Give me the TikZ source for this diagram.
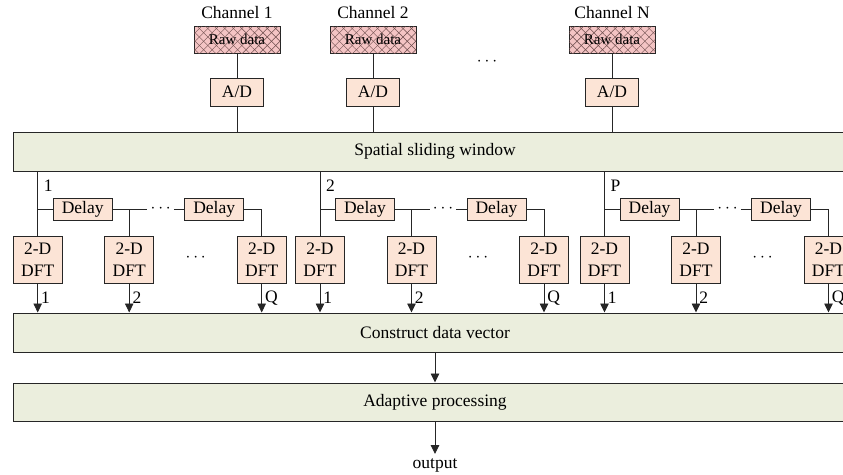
\documentclass[tikz,border=0pt]{standalone}
\usepackage{fontspec}
\setmainfont{Liberation Serif}
\usetikzlibrary{arrows.meta,patterns.meta}
\definecolor{peach}{HTML}{FCE4D6}
\definecolor{sage}{HTML}{EBEEDD}
\definecolor{rawpink}{HTML}{F4C4C4}
\definecolor{hatch}{HTML}{6A4A4A}
\begin{document}
\begin{tikzpicture}[x=1pt,y=-1pt,
  every node/.style={font=\fontsize{17.5}{22}\selectfont, inner sep=0pt},
  ln/.style={line width=0.9pt, draw=black!85},
  arr/.style={ln, -{Triangle[length=9pt,width=8.5pt]}},
  box/.style={draw=black!85, line width=0.9pt, fill=peach, align=center},
  adbox/.style={box, minimum width=53pt, minimum height=28pt},
  delaybox/.style={box, minimum width=59pt, minimum height=22pt},
  dftbox/.style={box, minimum width=49pt, minimum height=47pt},
  bigbox/.style={draw=black!85, line width=1pt, fill=sage, minimum width=844pt, minimum height=39pt},
  rawbox/.style={draw=black!85, line width=0.9pt, fill=rawpink, minimum width=86pt, minimum height=27pt,
    font=\fontsize{15}{18}\selectfont,
    postaction={pattern={Lines[angle=45,distance=6pt,line width=0.45pt]}, pattern color=hatch},
    postaction={pattern={Lines[angle=-45,distance=6pt,line width=0.45pt]}, pattern color=hatch}},
  dotsnode/.style={inner xsep=3pt}]
\useasboundingbox (0,0) rectangle (843,474);
\clip (0,0) rectangle (843,474);

% channels
\foreach \cx/\cn/\ci in {237/1/a,373/2/b,612/N/c}{
  \node (ch\ci) at (\cx,13) {Channel \cn};
  \node[rawbox] (r\ci) at (\cx,39.5) {Raw data};
  \node[adbox] (ad\ci) at (\cx,92) {A/D};
}
\node (topdots) at (487,62) {$\cdots$};

% big boxes
\node[bigbox] (sw) at (435,151.5) {Spatial sliding window};
\node[bigbox] (cv) at (435,332.5) {Construct data vector};
\node[bigbox, minimum height=38pt] (ap) at (435,402) {Adaptive processing};
\node (out) at (435,465) {output};

\foreach \ci in {a,b,c}{
  \draw[ln] (r\ci) -- (ad\ci);
  \draw[ln] (ad\ci) -- (ad\ci |- sw.north);
}

% groups
\foreach \gx/\lab/\gi in {37.7/1/a,320/2/b,604.5/P/c}{
  \node[dftbox] (d1\gi) at (\gx,259.5) {2-D\\DFT};
  \node[dftbox] (d2\gi) at (\gx+91.5,259.5) {2-D\\DFT};
  \node[dftbox] (dq\gi) at (\gx+224,259.5) {2-D\\DFT};
  \node[delaybox] (y1\gi) at (\gx+45,209) {Delay};
  \node[delaybox] (y2\gi) at (\gx+176.5,209) {Delay};
  \node[anchor=west] (lab\gi) at (\gx+6,186) {\lab};
  \node[dotsnode] (dd\gi) at (\gx+123,209) {$\cdots$};
  \node (fd\gi) at (\gx+158,258) {$\cdots$};
  \draw[ln] (d1\gi.north |- sw.south) -- (d1\gi.north);
  \draw[ln] (d1\gi.north |- y1\gi.west) -- (y1\gi.west);
  \draw[ln] (y1\gi.east) -- (dd\gi.west);
  \draw[ln] (dd\gi.east) -- (y2\gi.west);
  \draw[ln] (d2\gi.north |- y1\gi.east) -- (d2\gi.north);
  \draw[ln] (y2\gi.east) -| (dq\gi.north);
  \draw[arr] (d1\gi.south) -- (d1\gi.south |- cv.north) node[midway, anchor=west, xshift=3pt] {1};
  \draw[arr] (d2\gi.south) -- (d2\gi.south |- cv.north) node[midway, anchor=west, xshift=3pt] {2};
  \draw[arr] (dq\gi.south) -- (dq\gi.south |- cv.north) node[midway, anchor=west, xshift=3pt] {Q};
}

\draw[arr] (cv) -- (ap);
\draw[arr, shorten >=4pt] (ap) -- (out);
\end{tikzpicture}
\end{document}
